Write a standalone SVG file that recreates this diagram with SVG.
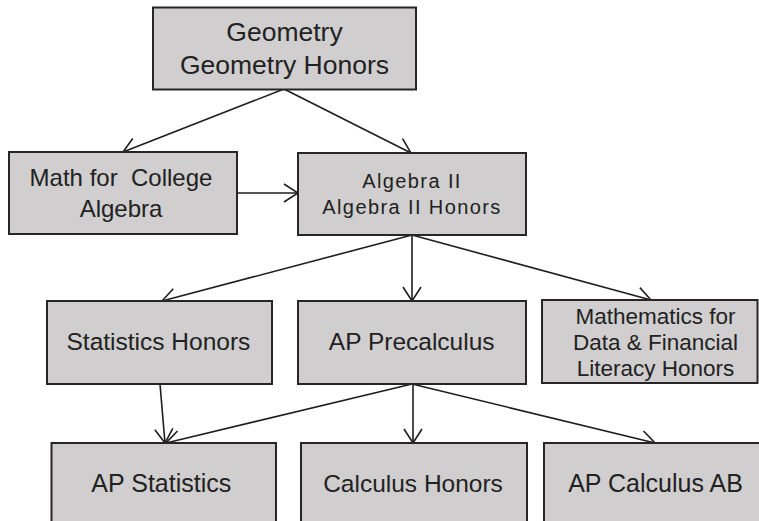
<svg xmlns="http://www.w3.org/2000/svg" width="759" height="521" viewBox="0 0 759 521">
<style>
.box{fill:#d0cece;stroke:#262626;stroke-width:2}
.t{font-family:"Liberation Sans",Arial,sans-serif;fill:#222;text-anchor:middle}
.pre{white-space:pre}
.c{fill:none;stroke:#1e1e1e;stroke-width:1.6;marker-end:url(#ah)}
</style>
<defs>
<marker id="ah" markerUnits="userSpaceOnUse" viewBox="0 0 16 20" refX="15" refY="10" markerWidth="16" markerHeight="20" orient="auto">
<path d="M1,1 L15,10 L1,19" fill="none" stroke="#1e1e1e" stroke-width="1.6"/>
</marker>
</defs>
<rect width="759" height="521" fill="#ffffff"/>
<g id="connectors">
<line class="c" x1="284" y1="89" x2="123" y2="152"/>
<line class="c" x1="284" y1="89" x2="411" y2="153"/>
<line class="c" x1="237" y1="193" x2="298" y2="193"/>
<line class="c" x1="412" y1="235" x2="162" y2="301"/>
<line class="c" x1="412" y1="235" x2="412" y2="301"/>
<line class="c" x1="412" y1="235" x2="651" y2="300"/>
<line class="c" x1="160" y1="384" x2="165" y2="443"/>
<line class="c" x1="412" y1="384" x2="166" y2="443"/>
<line class="c" x1="413" y1="384" x2="413" y2="443"/>
<line class="c" x1="412" y1="384" x2="655" y2="443"/>
</g>
<g id="geometry">
<rect class="box" x="153" y="7.5" width="263" height="82"/>
<text class="t" x="284.5" y="41" font-size="26.5">Geometry</text>
<text class="t" x="284.5" y="74" font-size="26.5">Geometry Honors</text>
</g>
<g id="math-college">
<rect class="box" x="9" y="152" width="228" height="82"/>
<text class="t pre" x="121" y="185.7" font-size="24" xml:space="preserve">Math for  College</text>
<text class="t" x="121" y="216.5" font-size="24">Algebra</text>
</g>
<g id="algebra2">
<rect class="box" x="298" y="153" width="228" height="82"/>
<text class="t" x="412" y="188.3" font-size="20" letter-spacing="1.4">Algebra II</text>
<text class="t" x="412" y="214.3" font-size="20" letter-spacing="1.4">Algebra II Honors</text>
</g>
<g id="stats-honors">
<rect class="box" x="47" y="301" width="225" height="83"/>
<text class="t" x="158.4" y="350" font-size="24.5">Statistics Honors</text>
</g>
<g id="ap-precalc">
<rect class="box" x="298" y="301" width="228" height="83"/>
<text class="t" x="411.7" y="350" font-size="24.5">AP Precalculus</text>
</g>
<g id="math-data">
<rect class="box" x="542" y="300" width="215.5" height="83"/>
<text class="t" x="655.5" y="324.3" font-size="22.5">Mathematics for</text>
<text class="t" x="655.5" y="350" font-size="22.5">Data &amp; Financial</text>
<text class="t" x="655.5" y="375.5" font-size="22.5">Literacy Honors</text>
</g>
<g id="ap-stats">
<rect class="box" x="51.5" y="443" width="224.5" height="100"/>
<text class="t" x="161.3" y="492.3" font-size="25">AP Statistics</text>
</g>
<g id="calc-honors">
<rect class="box" x="301" y="443" width="226" height="100"/>
<text class="t" x="413" y="492.3" font-size="24.5">Calculus Honors</text>
</g>
<g id="ap-calc-ab">
<rect class="box" x="544" y="443" width="220" height="100"/>
<text class="t" x="655.5" y="492.3" font-size="25">AP Calculus AB</text>
</g>
</svg>
